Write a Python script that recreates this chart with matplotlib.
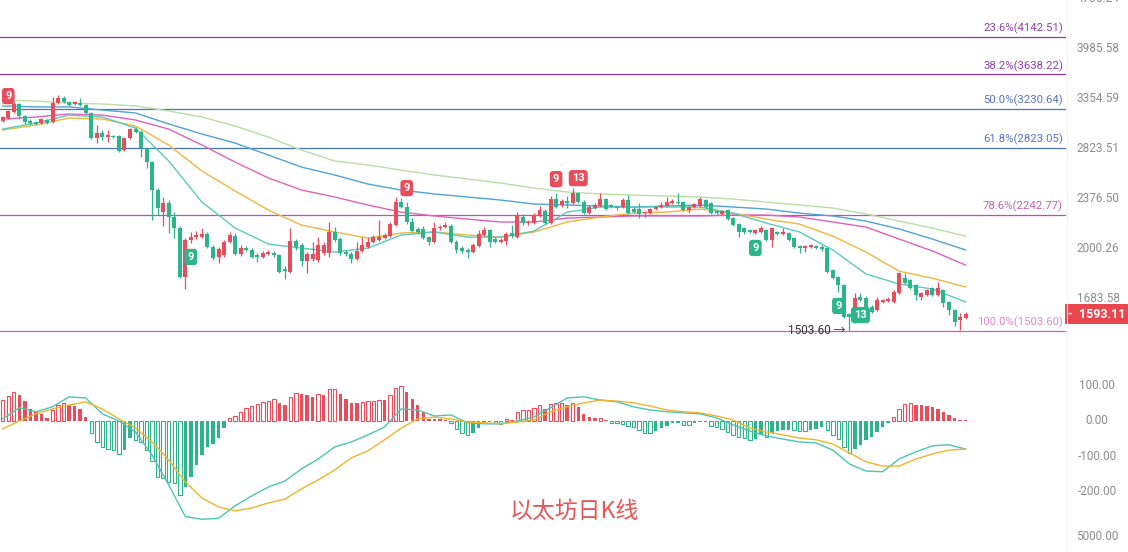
import matplotlib
matplotlib.use('Agg')
import matplotlib.pyplot as plt
import matplotlib.transforms as mtransforms
from matplotlib.lines import Line2D
import numpy as np

plt.rcParams['font.family'] = ['Roboto', 'Noto Sans CJK SC', 'DejaVu Sans']

########## daily candles ##########
opens = [3099, 3131, 3197, 3286, 3153, 3095, 3089, 3078, 3110, 3089,
         3297, 3354, 3309, 3286, 3297, 3275, 3186, 2922, 2973, 2932,
         2943, 2943, 2804, 2922, 3014, 2983, 2824, 2690, 2443, 2264,
         2336, 2226, 2143, 1810, 2056, 2077, 2077, 2099, 2007, 1939,
         1953, 2042, 2084, 1960, 2000, 1987, 1953, 1939, 1960, 1966,
         1953, 1860, 1841, 2049, 2021, 1913, 1926, 1919, 1966, 1966,
         2114, 2063, 1973, 1960, 1926, 1980, 2007, 2042, 2056, 2070,
         2084, 2165, 2344, 2304, 2188, 2136, 2136, 2077, 2042, 2143,
         2150, 2157, 2042, 2000, 1987, 1973, 2014, 2092, 2128, 2063,
         2042, 2049, 2106, 2077, 2226, 2180, 2180, 2234, 2272, 2180,
         2368, 2320, 2352, 2336, 2418, 2344, 2256, 2296, 2312, 2368,
         2320, 2304, 2304, 2360, 2288, 2288, 2256, 2256, 2288, 2304,
         2312, 2336, 2344, 2344, 2280, 2304, 2312, 2360, 2336, 2272,
         2249, 2280, 2218, 2172, 2143, 2128, 2106, 2114, 2128, 2056,
         2114, 2099, 2106, 2070, 2014, 2000, 2007, 2014, 2007, 2000,
         1854, 1810, 1761, 1593, 1550, 1690, 1684, 1632, 1615, 1661,
         1666, 1661, 1713, 1803, 1791, 1761, 1690, 1701, 1743, 1701,
         1731, 1661, 1615, 1561, 1572]
closes = [3142, 3208, 3286, 3153, 3089, 3078, 3068, 3121, 3078, 3297,
          3354, 3309, 3275, 3309, 3275, 3186, 2922, 2973, 2932, 2953,
          2932, 2794, 2922, 3014, 2983, 2824, 2690, 2443, 2296, 2336,
          2226, 2143, 1810, 2056, 2077, 2092, 2099, 2007, 1933, 1993,
          2042, 2092, 1960, 2000, 1987, 1939, 1939, 1966, 1973, 1953,
          1841, 1847, 2049, 2007, 1913, 1960, 1960, 2021, 2021, 2114,
          2056, 1966, 1960, 1926, 1980, 2021, 2042, 2077, 2077, 2092,
          2172, 2344, 2304, 2188, 2121, 2114, 2070, 2042, 2143, 2150,
          2165, 2042, 1987, 1980, 1973, 2021, 2099, 2128, 2042, 2042,
          2056, 2099, 2084, 2241, 2180, 2188, 2241, 2280, 2180, 2368,
          2304, 2352, 2336, 2418, 2344, 2256, 2304, 2320, 2368, 2288,
          2304, 2296, 2360, 2256, 2264, 2249, 2264, 2288, 2304, 2320,
          2344, 2352, 2336, 2280, 2304, 2328, 2368, 2304, 2256, 2256,
          2272, 2210, 2165, 2114, 2114, 2114, 2128, 2143, 2056, 2143,
          2099, 2114, 2056, 2007, 2000, 2014, 2021, 2000, 1993, 1841,
          1803, 1761, 1577, 1577, 1684, 1672, 1626, 1604, 1672, 1672,
          1678, 1719, 1835, 1773, 1743, 1701, 1713, 1731, 1701, 1743,
          1655, 1615, 1550, 1577, 1593.11]
highs = [3153, 3219, 3309, 3297, 3160, 3121, 3099, 3131, 3121, 3366,
         3389, 3377, 3320, 3320, 3354, 3286, 3197, 3057, 3004, 3004,
         2953, 2953, 2932, 3025, 3035, 3004, 2834, 2700, 2460, 2385,
         2360, 2264, 2157, 2070, 2114, 2121, 2143, 2114, 2021, 2007,
         2056, 2114, 2106, 2021, 2014, 2000, 1966, 1980, 1987, 1980,
         1960, 1879, 2143, 2063, 2035, 1973, 2042, 2077, 2042, 2188,
         2150, 2077, 1987, 1973, 2042, 2077, 2077, 2092, 2203, 2106,
         2188, 2385, 2377, 2344, 2218, 2150, 2157, 2084, 2188, 2165,
         2188, 2172, 2056, 2014, 2000, 2035, 2128, 2150, 2136, 2077,
         2070, 2114, 2165, 2264, 2249, 2203, 2256, 2312, 2288, 2393,
         2418, 2368, 2393, 2460, 2426, 2360, 2320, 2336, 2418, 2377,
         2328, 2312, 2377, 2401, 2304, 2336, 2272, 2296, 2312, 2344,
         2385, 2368, 2418, 2352, 2312, 2336, 2385, 2368, 2344, 2280,
         2280, 2288, 2226, 2180, 2150, 2136, 2136, 2157, 2136, 2150,
         2121, 2143, 2114, 2077, 2021, 2021, 2028, 2021, 2021, 2007,
         1860, 1816, 1767, 1599, 1713, 1713, 1695, 1644, 1690, 1678,
         1690, 1731, 1841, 1835, 1797, 1767, 1719, 1737, 1749, 1779,
         1737, 1666, 1621, 1599, 1604]
lows = [3089, 3121, 3186, 3121, 3068, 3057, 3057, 3068, 3068, 3078,
        3286, 3297, 3264, 3275, 3264, 3175, 2912, 2872, 2902, 2882,
        2922, 2785, 2794, 2912, 2973, 2737, 2635, 2203, 2241, 2157,
        2106, 2070, 1803, 1737, 2035, 2063, 2070, 2000, 1919, 1899,
        1939, 2035, 1953, 1946, 1980, 1933, 1906, 1933, 1953, 1939,
        1835, 1797, 1835, 1987, 1879, 1835, 1913, 1906, 1953, 1939,
        2042, 1953, 1946, 1899, 1919, 1973, 2000, 2035, 2049, 2063,
        2077, 2157, 2296, 2172, 2114, 2099, 2063, 2021, 2035, 2128,
        2143, 2035, 1966, 1966, 1933, 1966, 2007, 2084, 2007, 2035,
        2035, 2021, 2070, 2070, 2165, 2165, 2172, 2226, 2172, 2172,
        2296, 2304, 2296, 2328, 2336, 2249, 2249, 2288, 2304, 2280,
        2296, 2280, 2296, 2249, 2256, 2218, 2226, 2249, 2280, 2296,
        2304, 2328, 2328, 2272, 2256, 2296, 2304, 2296, 2249, 2249,
        2241, 2203, 2157, 2077, 2099, 2106, 2099, 2106, 2049, 2007,
        2092, 2092, 2049, 2000, 1966, 1973, 2000, 1993, 1980, 1835,
        1797, 1719, 1572, 1503.60, 1545, 1666, 1615, 1599, 1610, 1655,
        1661, 1655, 1707, 1767, 1737, 1672, 1672, 1695, 1695, 1695,
        1632, 1588, 1529, 1508, 1566]

########## moving averages, read every 6th candle ##########
ma_idx = list(range(0, 175, 6))
ma_teal = [3014, 3078, 3163, 3142, 3025, 2700, 2344, 2143, 2028, 2000,
           1973, 2000, 2092, 2114, 2077, 2077, 2121, 2264, 2304, 2304,
           2304, 2304, 2256, 2180, 2114, 1987, 1829, 1767, 1737, 1661]
ma_orange = [3004, 3057, 3131, 3121, 3046, 2853, 2608, 2435, 2280, 2165,
             2114, 2070, 2106, 2114, 2092, 2077, 2114, 2188, 2226, 2256,
             2264, 2288, 2256, 2210, 2172, 2084, 1973, 1847, 1803, 1749]
ma_magenta = [3120, 3142, 3175, 3163, 3110, 3014, 2853, 2690, 2547, 2443,
              2385, 2320, 2264, 2234, 2210, 2188, 2188, 2218, 2226, 2234,
              2234, 2234, 2241, 2241, 2226, 2188, 2150, 2063, 1980, 1886]
ma_blue = [3264, 3253, 3253, 3219, 3186, 3068, 2963, 2872, 2756, 2644,
           2573, 2494, 2443, 2410, 2385, 2360, 2328, 2320, 2312, 2304,
           2312, 2320, 2304, 2288, 2256, 2234, 2195, 2136, 2063, 1987]
ma_green = [3331, 3320, 3297, 3286, 3264, 3208, 3142, 3046, 2932, 2804,
            2700, 2663, 2617, 2573, 2538, 2502, 2460, 2426, 2410, 2401,
            2393, 2385, 2368, 2344, 2320, 2296, 2249, 2195, 2143, 2084]

########## MACD ##########
macd_hist = [58, 69, 82, 72, 54, 32, 23, 19, 7, 30,
             44, 49, 44, 41, 32, 11, -36, -59, -75, -81,
             -82, -94, -83, -50, -54, -59, -83, -115, -158, -162,
             -172, -177, -209, -186, -158, -125, -97, -75, -66, -50,
             -22, 7, 14, 25, 35, 41, 46, 52, 55, 60,
             49, 44, 68, 77, 74, 72, 68, 75, 72, 88,
             89, 75, 60, 51, 49, 52, 55, 56, 58, 57,
             72, 91, 98, 82, 60, 44, 23, 6, 5, 4,
             3, -8, -24, -34, -40, -36, -22, -6, -5, -8,
             -9, 4, 2, 25, 30, 31, 35, 44, 32, 47,
             49, 50, 44, 49, 38, 19, 9, 7, 8, 2,
             -6, -8, -9, -15, -19, -26, -34, -35, -28, -22,
             -15, -8, -7, -12, -13, -6, -5, -4, -15, -19,
             -24, -31, -40, -45, -50, -54, -53, -40, -47, -36,
             -28, -26, -25, -27, -28, -29, -27, -24, -17, -26,
             -40, -53, -75, -92, -81, -69, -54, -45, -31, -17,
             -8, 11, 32, 47, 51, 44, 43, 41, 39, 32,
             23, 16, 7, 2, 1]
# DIF / DEA read every 3rd candle
macd_idx = list(range(0, 175, 3))
dif = [5, 36, 25, 39, 67, 64, 19, -1, -32, -97,
       -181, -270, -278, -275, -240, -212, -187, -170, -136, -108,
       -74, -60, -40, -18, 33, 30, 13, 16, -6, -9,
       -9, -1, 10, 36, 64, 67, 58, 53, 39, 30,
       25, 22, 19, 8, -12, -29, -43, -52, -60, -63,
       -83, -122, -142, -144, -108, -88, -71, -68, -80]
dea = [-23, -1, 19, 33, 44, 53, 33, 5, -21, -60,
       -111, -173, -218, -243, -254, -246, -232, -221, -192, -167,
       -139, -105, -85, -54, -21, 5, 10, 5, -4, -6,
       -9, -4, 2, 25, 39, 50, 58, 55, 50, 41,
       30, 25, 22, 13, 2, -21, -32, -40, -49, -54,
       -66, -91, -116, -128, -128, -108, -94, -83, -80]

fib_names = ['23.6%', '38.2%', '50.0%', '61.8%', '78.6%', '100.0%']
fib_levels = [4142.51, 3638.22, 3230.64, 2823.05, 2242.77, 1503.60]
fib_line_col = ['#8e35a8', '#8e35a8', '#4a72c0', '#4a72c0', '#c64bb0', '#cf5fbf']
fib_text_col = ['#9040b0', '#9040b0', '#5a72c0', '#5a72c0', '#c462b4', '#d88ad0']

price_ticks = [4735.24, 3985.58, 3354.59, 2823.51, 2376.50, 2000.26, 1683.58]
macd_ticks = [100, 0, -100, -200]
last_price = 1593.11
low_price = 1503.60
low_idx = 153

td_idx = [1, 73, 100, 104, 34, 136, 151, 155]
td_text = ['9', '9', '9', '13', '9', '9', '9', '13']
td_up = [True, True, True, True, False, False, False, False]

RED = '#e84d5b'
GREEN = '#2cb48b'
GREY = '#8c8c8c'

W, H = 1128, 552
fig = plt.figure(figsize=(W / 100, H / 100), dpi=100)
fig.patch.set_facecolor('white')
axw = 1068 / W

ax = fig.add_axes([0, 1 - 345 / H, axw, 345 / H])
ax2 = fig.add_axes([0, 27 / H, axw, 175 / H])
for a in (ax, ax2):
    a.set_xlim(-0.49, 192.5)
    a.set_xticks([])
    for s in a.spines.values():
        s.set_visible(False)
    a.set_facecolor('none')

n = len(closes)
x = np.arange(n)
o = np.array(opens, float)
c = np.array(closes, float)
hi = np.maximum(np.array(highs, float), np.maximum(o, c))
lo = np.minimum(np.array(lows, float), np.minimum(o, c))
col = [RED if cc >= oo else GREEN for oo, cc in zip(o, c)]

########## price panel ##########
ax.set_yscale('log')
ax.set_ylim(1432, 4703)
ax.set_yticks([])
ax.set_yticks([], minor=True)

blend = mtransforms.blended_transform_factory(ax.transAxes, ax.transData)
for name, lvl, lc, tc in zip(fib_names, fib_levels, fib_line_col, fib_text_col):
    ax.axhline(lvl, xmin=0, xmax=1065 / 1068, color=lc, lw=0.9, zorder=1)
    ax.annotate(f'{name}({lvl:.2f})', xy=(1063 / 1068, lvl), xycoords=blend,
                xytext=(0, 2), textcoords='offset points', ha='right', va='bottom',
                color=tc, fontsize=8.2)

ma_cols = ['#b9dea6', '#4ea3d8', '#e062b8', '#f3b53d', '#5ccabd']
for vals, mc in zip([ma_green, ma_blue, ma_magenta, ma_orange, ma_teal], ma_cols):
    ax.plot(ma_idx, vals, color=mc, lw=1.0, zorder=2)

body_lo = np.minimum(o, c)
body_h = np.maximum(np.abs(c - o), c * 0.002)
ax.vlines(x, lo, hi, colors=col, lw=0.9, zorder=3)
ax.bar(x, body_h, bottom=body_lo, width=0.72, color=col, linewidth=0, zorder=4)

for i, t, up in zip(td_idx, td_text, td_up):
    if up:
        y, dy, fc = hi[i], 10, RED
    else:
        y, dy, fc = lo[i], -10, GREEN
    ax.annotate(t, xy=(i, y), xytext=(0, dy), textcoords='offset points',
                ha='center', va='center', color='white', fontsize=8, fontweight='bold',
                bbox=dict(boxstyle='round,pad=0.28', fc=fc, ec='none'), zorder=6)

ax.text(low_idx - 0.8, low_price, f'{low_price:.2f} →', ha='right', va='center',
        fontsize=8.5, color='#333333', zorder=6)

for t in price_ticks:
    ax.text(1098 / 1068, t, f'{t:.2f}', transform=blend, ha='center', va='center',
            fontsize=8.5, color=GREY, clip_on=False)
ax.text(1097 / 1068, last_price, f'-  {last_price:.2f}', transform=blend, ha='center',
        va='center', fontsize=9, fontweight='bold', color='white', clip_on=False,
        bbox=dict(boxstyle='square,pad=0.3', fc='#e8474f', ec='none'))

########## MACD panel ##########
ax2.set_ylim(-294, 199)
ax2.set_yticks([])
hist = np.array(macd_hist, float)
for i, h in enumerate(hist):
    prev = hist[i - 1] if i > 0 else 0
    cc = RED if h >= 0 else GREEN
    hollow = (h >= prev) if h >= 0 else (h <= prev)
    if hollow:
        ax2.bar(i, h, width=0.62, facecolor='white', edgecolor=cc, linewidth=0.8, zorder=2)
    else:
        ax2.bar(i, h, width=0.62, facecolor=cc, edgecolor=cc, linewidth=0, zorder=2)
ax2.plot(macd_idx, dif, color='#4cc4b4', lw=1.0, zorder=3)
ax2.plot(macd_idx, dea, color='#f2b32c', lw=1.0, zorder=3)

blend2 = mtransforms.blended_transform_factory(ax2.transAxes, ax2.transData)
for t in macd_ticks:
    ax2.text(1097 / 1068, t, f'{t:.2f}', transform=blend2, ha='center', va='center',
             fontsize=8.5, color=GREY, clip_on=False)

fig.text(1097 / W, 1 - 536 / H, '5000.00', ha='center', va='center', fontsize=8.5, color=GREY)
fig.add_artist(Line2D([1067 / W, 1067 / W], [0, 1], color='#f2f2f2', lw=0.8))

fig.text(574 / W, 1 - 511 / H, '以太坊日K线', ha='center', va='center', fontsize=16.5,
         color='#e85555', family=['Noto Sans CJK SC', 'DejaVu Sans'])

fig.savefig('out.png', dpi=100)
